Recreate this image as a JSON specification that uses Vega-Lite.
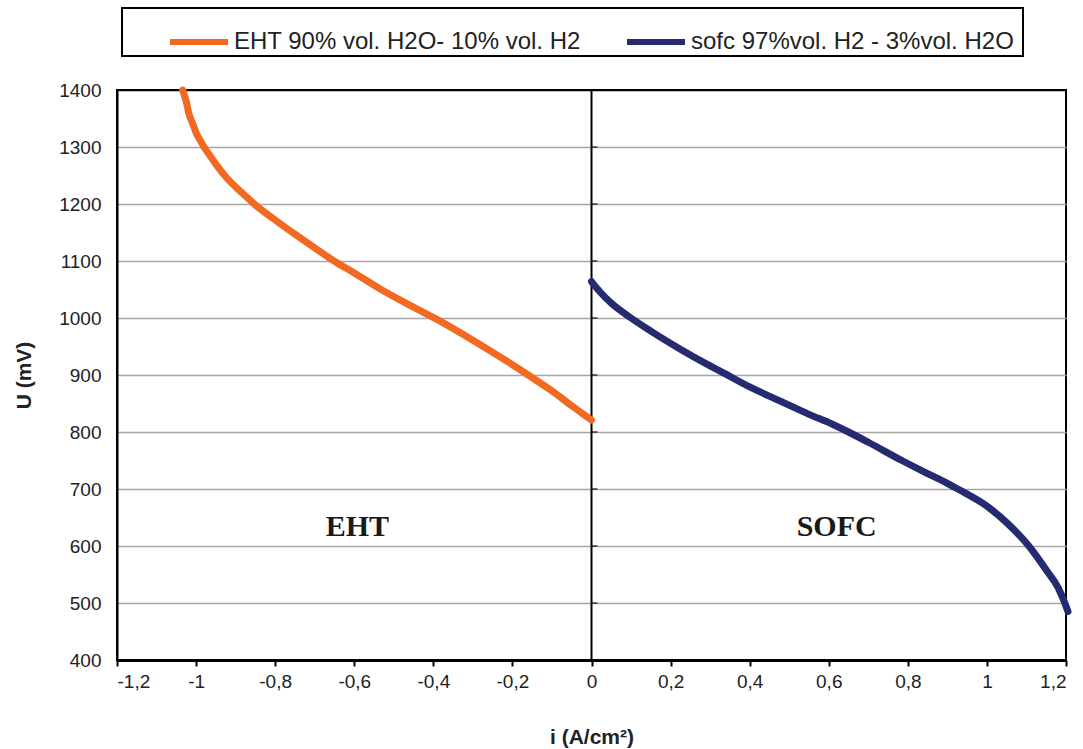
{
  "$schema": "https://vega.github.io/schema/vega-lite/v6.json",
  "width": 949,
  "height": 570,
  "autosize": {"type": "none"},
  "padding": {"left": 117, "top": 90, "right": 17, "bottom": 89},
  "background": "white",
  "config": {"view": {"stroke": "black", "strokeWidth": 2}, "font": "Liberation Sans"},
  "datasets": {
    "curves": [
      {"series": "EHT 90% vol. H2O- 10% vol. H2", "i": -1.034, "u": 1400},
      {"series": "EHT 90% vol. H2O- 10% vol. H2", "i": -1.025, "u": 1380},
      {"series": "EHT 90% vol. H2O- 10% vol. H2", "i": -1.018, "u": 1358},
      {"series": "EHT 90% vol. H2O- 10% vol. H2", "i": -1.008, "u": 1340},
      {"series": "EHT 90% vol. H2O- 10% vol. H2", "i": -1.0, "u": 1325},
      {"series": "EHT 90% vol. H2O- 10% vol. H2", "i": -0.99, "u": 1312},
      {"series": "EHT 90% vol. H2O- 10% vol. H2", "i": -0.98, "u": 1300},
      {"series": "EHT 90% vol. H2O- 10% vol. H2", "i": -0.965, "u": 1285},
      {"series": "EHT 90% vol. H2O- 10% vol. H2", "i": -0.95, "u": 1270},
      {"series": "EHT 90% vol. H2O- 10% vol. H2", "i": -0.924, "u": 1247},
      {"series": "EHT 90% vol. H2O- 10% vol. H2", "i": -0.9, "u": 1230},
      {"series": "EHT 90% vol. H2O- 10% vol. H2", "i": -0.875, "u": 1214},
      {"series": "EHT 90% vol. H2O- 10% vol. H2", "i": -0.853, "u": 1200},
      {"series": "EHT 90% vol. H2O- 10% vol. H2", "i": -0.8, "u": 1172},
      {"series": "EHT 90% vol. H2O- 10% vol. H2", "i": -0.75, "u": 1147},
      {"series": "EHT 90% vol. H2O- 10% vol. H2", "i": -0.7, "u": 1123},
      {"series": "EHT 90% vol. H2O- 10% vol. H2", "i": -0.651, "u": 1100},
      {"series": "EHT 90% vol. H2O- 10% vol. H2", "i": -0.6, "u": 1079},
      {"series": "EHT 90% vol. H2O- 10% vol. H2", "i": -0.532, "u": 1050},
      {"series": "EHT 90% vol. H2O- 10% vol. H2", "i": -0.45, "u": 1019},
      {"series": "EHT 90% vol. H2O- 10% vol. H2", "i": -0.392, "u": 998},
      {"series": "EHT 90% vol. H2O- 10% vol. H2", "i": -0.3, "u": 961},
      {"series": "EHT 90% vol. H2O- 10% vol. H2", "i": -0.2, "u": 918},
      {"series": "EHT 90% vol. H2O- 10% vol. H2", "i": -0.16, "u": 900},
      {"series": "EHT 90% vol. H2O- 10% vol. H2", "i": -0.1, "u": 872},
      {"series": "EHT 90% vol. H2O- 10% vol. H2", "i": -0.05, "u": 846},
      {"series": "EHT 90% vol. H2O- 10% vol. H2", "i": -0.02, "u": 831},
      {"series": "EHT 90% vol. H2O- 10% vol. H2", "i": 0, "u": 821},
      {"series": "sofc  97%vol. H2 - 3%vol. H2O", "i": 0, "u": 1064},
      {"series": "sofc  97%vol. H2 - 3%vol. H2O", "i": 0.01, "u": 1055},
      {"series": "sofc  97%vol. H2 - 3%vol. H2O", "i": 0.02, "u": 1047},
      {"series": "sofc  97%vol. H2 - 3%vol. H2O", "i": 0.05, "u": 1026},
      {"series": "sofc  97%vol. H2 - 3%vol. H2O", "i": 0.1, "u": 1000},
      {"series": "sofc  97%vol. H2 - 3%vol. H2O", "i": 0.15, "u": 977},
      {"series": "sofc  97%vol. H2 - 3%vol. H2O", "i": 0.228, "u": 944},
      {"series": "sofc  97%vol. H2 - 3%vol. H2O", "i": 0.3, "u": 916},
      {"series": "sofc  97%vol. H2 - 3%vol. H2O", "i": 0.33, "u": 905},
      {"series": "sofc  97%vol. H2 - 3%vol. H2O", "i": 0.4, "u": 879},
      {"series": "sofc  97%vol. H2 - 3%vol. H2O", "i": 0.481, "u": 853},
      {"series": "sofc  97%vol. H2 - 3%vol. H2O", "i": 0.55, "u": 831},
      {"series": "sofc  97%vol. H2 - 3%vol. H2O", "i": 0.608, "u": 814},
      {"series": "sofc  97%vol. H2 - 3%vol. H2O", "i": 0.65, "u": 800},
      {"series": "sofc  97%vol. H2 - 3%vol. H2O", "i": 0.7, "u": 782},
      {"series": "sofc  97%vol. H2 - 3%vol. H2O", "i": 0.785, "u": 750},
      {"series": "sofc  97%vol. H2 - 3%vol. H2O", "i": 0.85, "u": 727},
      {"series": "sofc  97%vol. H2 - 3%vol. H2O", "i": 0.9, "u": 710},
      {"series": "sofc  97%vol. H2 - 3%vol. H2O", "i": 0.929, "u": 699},
      {"series": "sofc  97%vol. H2 - 3%vol. H2O", "i": 1.0, "u": 670},
      {"series": "sofc  97%vol. H2 - 3%vol. H2O", "i": 1.05, "u": 641},
      {"series": "sofc  97%vol. H2 - 3%vol. H2O", "i": 1.106, "u": 600},
      {"series": "sofc  97%vol. H2 - 3%vol. H2O", "i": 1.15, "u": 558},
      {"series": "sofc  97%vol. H2 - 3%vol. H2O", "i": 1.18, "u": 527},
      {"series": "sofc  97%vol. H2 - 3%vol. H2O", "i": 1.197, "u": 500},
      {"series": "sofc  97%vol. H2 - 3%vol. H2O", "i": 1.205, "u": 485}
    ],
    "zeroTicks": [
      {"u": 400}, {"u": 500}, {"u": 600}, {"u": 700}, {"u": 800}, {"u": 900},
      {"u": 1000}, {"u": 1100}, {"u": 1200}, {"u": 1300}, {"u": 1400}
    ],
    "zeroLine": [{"i": 0}],
    "labels": [
      {"i": -0.592, "u": 633, "t": "EHT"},
      {"i": 0.62, "u": 633, "t": "SOFC"}
    ]
  },
  "layer": [
    {
      "data": {"name": "zeroLine"},
      "mark": {"type": "rule", "color": "black", "strokeWidth": 2},
      "encoding": {"x": {"field": "i", "type": "quantitative"}}
    },
    {
      "data": {"name": "curves"},
      "mark": {"type": "line", "strokeWidth": 7, "strokeCap": "round", "strokeJoin": "round", "interpolate": "monotone"},
      "encoding": {
        "x": {
          "field": "i", "type": "quantitative",
          "scale": {"domain": [-1.2, 1.2], "nice": false, "zero": false},
          "axis": {
            "values": [-1.2, -1, -0.8, -0.6, -0.4, -0.2, 0, 0.2, 0.4, 0.6, 0.8, 1, 1.2],
            "labelExpr": "replace(replace(format(datum.value, '.1~f'), '.', ','), '\u2212', '-')",
            "grid": false,
            "domainColor": "black", "domainWidth": 3,
            "tickColor": "black", "tickWidth": 2, "tickSize": 6,
            "labelFontSize": 19, "labelColor": "#222", "labelPadding": 6,
            "title": "i (A/cm²)", "titleFontSize": 21, "titleFontWeight": "bold",
            "titleColor": "#222", "titlePadding": 35
          }
        },
        "y": {
          "field": "u", "type": "quantitative",
          "scale": {"domain": [400, 1400], "nice": false, "zero": false},
          "axis": {
            "values": [400, 500, 600, 700, 800, 900, 1000, 1100, 1200, 1300, 1400],
            "format": "d",
            "grid": true,
            "gridColor": {"condition": {"test": "datum.value == 1400 || datum.value == 400", "value": "black"}, "value": "#A6A6A6"},
            "gridWidth": 1.5,
            "ticks": false,
            "domainColor": "black", "domainWidth": 2,
            "labelFontSize": 19, "labelColor": "#222", "labelPadding": 16,
            "title": "U (mV)", "titleFontSize": 21, "titleFontWeight": "bold",
            "titleColor": "#222", "titlePadding": 24
          }
        },
        "color": {
          "field": "series", "type": "nominal",
          "scale": {
            "domain": ["EHT 90% vol. H2O- 10% vol. H2", "sofc  97%vol. H2 - 3%vol. H2O"],
            "range": ["#F26A22", "#262A70"]
          },
          "legend": {
            "orient": "none", "legendX": 5, "legendY": -82,
            "direction": "horizontal", "title": null,
            "symbolType": "stroke", "symbolSize": 3364, "symbolStrokeWidth": 6,
            "labelFontSize": 24, "labelColor": "#222", "labelOffset": 3, "labelLimit": 600,
            "columnPadding": 0, "padding": 2, "symbolOffset": 43,
            "strokeColor": "black", "fillColor": "white",
            "encode": {"legend": {"update": {"strokeWidth": {"value": 2}}}}
          }
        }
      }
    },
    {
      "data": {"name": "zeroTicks"},
      "mark": {"type": "tick", "orient": "horizontal", "size": 6, "thickness": 1.5, "xOffset": 3, "color": "black"},
      "encoding": {
        "x": {"datum": 0, "type": "quantitative"},
        "y": {"field": "u", "type": "quantitative"}
      }
    },
    {
      "data": {"name": "labels"},
      "mark": {"type": "text", "font": "Liberation Serif", "fontWeight": "bold", "fontSize": 30, "color": "#1a1a1a", "baseline": "middle", "align": "center"},
      "encoding": {
        "x": {"field": "i", "type": "quantitative"},
        "y": {"field": "u", "type": "quantitative"},
        "text": {"field": "t"}
      }
    }
  ]
}
